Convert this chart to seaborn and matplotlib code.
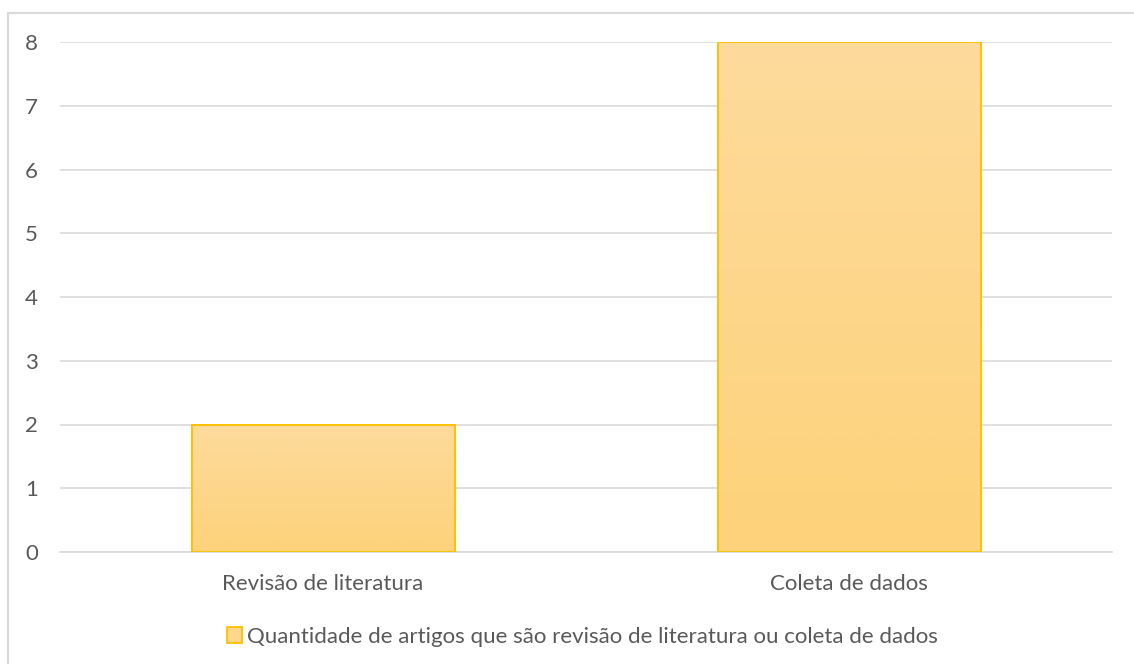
import numpy as np
import pandas as pd
import matplotlib.pyplot as plt
import matplotlib.patches as mpatches
from matplotlib.colors import LinearSegmentedColormap
import seaborn as sns

categories = ["Revisão de literatura", "Coleta de dados"]
values = [2, 8]
series_name = "Quantidade de artigos que são revisão de literatura ou coleta de dados"

sns.set_style("white")
plt.rcParams['font.family'] = ['Lato', 'DejaVu Sans']

df = pd.DataFrame({"tipo": categories, "qtd": values})

fig = plt.figure(figsize=(11.34, 6.64), dpi=100)
# outer chart frame (only left and top edges visible in the reference)
fig.add_artist(plt.Line2D([8 / 1134, 8 / 1134], [0, 1 - 13 / 664], transform=fig.transFigure,
                          color="#D9D9D9", lw=1.5))
fig.add_artist(plt.Line2D([8 / 1134, 1], [1 - 13 / 664, 1 - 13 / 664], transform=fig.transFigure,
                          color="#D9D9D9", lw=1.5))

ax = fig.add_axes([60 / 1134, 1 - 552 / 664, (1112 - 60) / 1134, (552 - 42) / 664])
sns.barplot(data=df, x="tipo", y="qtd", ax=ax, width=0.5, color="#FDD88C",
            edgecolor="#FFC000", linewidth=1.3, zorder=3)

# vertical gradient fill clipped to each bar
grad = np.linspace(0, 1, 256).reshape(-1, 1)
cmap = LinearSegmentedColormap.from_list("g", ["#FDD27A", "#FDDB9C"])
for p in ax.patches:
    x0, y0 = p.get_x(), p.get_y()
    w, h = p.get_width(), p.get_height()
    im = ax.imshow(grad, extent=[x0, x0 + w, y0, y0 + h], origin="lower", cmap=cmap,
                   aspect="auto", zorder=3.5)
    im.set_clip_path(p)
    edge = mpatches.Rectangle((x0, y0), w, h, fill=False, edgecolor="#FFC000", lw=1.3, zorder=4)
    ax.add_patch(edge)

ax.set_xlim(-0.5, 1.5)
ax.set_ylim(0, 8)
ax.set_yticks(range(0, 9))
ax.grid(axis="y", color="#D9D9D9", lw=1.2, zorder=0)
ax.set_axisbelow(True)
for s in ["top", "right", "left"]:
    ax.spines[s].set_visible(False)
ax.spines["bottom"].set_color("#D9D9D9")
ax.spines["bottom"].set_linewidth(1.2)
ax.tick_params(axis="both", length=0, labelsize=16, labelcolor="#595959")
ax.tick_params(axis="y", pad=16)
ax.tick_params(axis="x", pad=16)
ax.set_xlabel("")
ax.set_ylabel("")

handle = mpatches.Patch(facecolor="#FDD88C", edgecolor="#FFC000", lw=1.3, label=series_name)
fig.legend(handles=[handle], loc="center", bbox_to_anchor=(582 / 1134, 1 - 637 / 664), frameon=False,
           fontsize=16, labelcolor="#595959", handlelength=0.7, handleheight=0.7,
           handletextpad=0.2)

fig.savefig("out.png", dpi=100)
